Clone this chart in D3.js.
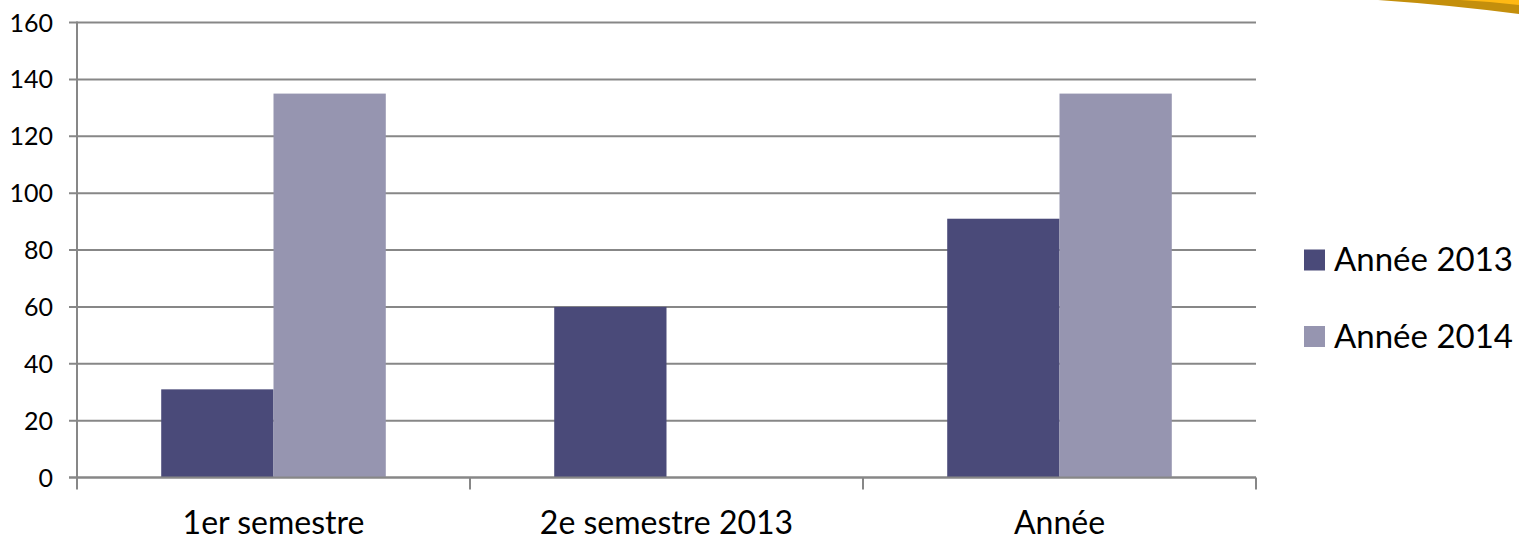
<!DOCTYPE html>
<html>
<head>
<meta charset="utf-8">
<script src="https://cdn.jsdelivr.net/npm/d3@7"></script>
<style>
html,body{margin:0;padding:0;background:#fff;}
svg{display:block;}
text{font-family:Lato,"Open Sans",sans-serif;fill:#000;}
</style>
</head>
<body>
<svg id="chart" width="1519" height="540"></svg>
<script>
const categories = ["1er semestre", "2e semestre 2013", "Année"];
const seriesNames = ["Année 2013", "Année 2014"];
const values2013 = [31, 60, 91];
const values2014 = [135, null, 135];
const yTicks = [0, 20, 40, 60, 80, 100, 120, 140, 160];
const colors = ["#4A4A79", "#9695B0"];

(function () {
const svg = d3.select("#chart");

// decorative swoosh in the top-right corner
svg.append("path").attr("d", "M1378,0 L1519,0 L1519,14 Q1450,5 1378,0 Z").attr("fill", "#C48F0C");
svg.append("path").attr("d", "M1460,0 L1519,0 L1519,5 Q1490,1.5 1460,0 Z").attr("fill", "#FFB914");

const pLeft = 77, pRight = 1256, pTop = 22.5, pBottom = 477.5;
const x = d3.scaleBand().domain(categories).range([pLeft, pRight]).paddingInner(0).paddingOuter(0);
const y = d3.scaleLinear().domain([0, 160]).range([pBottom, pTop]);
const barW = x.bandwidth() / 3.5;
const xs = d3.scaleBand().domain(seriesNames).range([0, barW * 2]);

const gridColor = "#878787";

// gridlines
svg.append("g").selectAll("line").data(yTicks).join("line")
  .attr("x1", pLeft - 8).attr("x2", pRight)
  .attr("y1", d => y(d)).attr("y2", d => y(d))
  .attr("stroke", gridColor).attr("stroke-width", 2);

// bars
const series = [values2013, values2014];
series.forEach((vals, si) => {
  svg.append("g").selectAll("rect")
    .data(categories.map((c, i) => ({c, v: vals[i]})).filter(d => d.v != null))
    .join("rect")
    .attr("x", d => x(d.c) + (x.bandwidth() - barW * 2) / 2 + xs(seriesNames[si]))
    .attr("width", xs.bandwidth())
    .attr("y", d => y(d.v))
    .attr("height", d => y(0) - y(d.v))
    .attr("fill", colors[si]);
});

// x axis line on top
svg.append("line").attr("x1", pLeft - 8).attr("x2", pRight).attr("y1", y(0)).attr("y2", y(0))
  .attr("stroke", gridColor).attr("stroke-width", 2);
// y axis
svg.append("line").attr("x1", pLeft).attr("x2", pLeft).attr("y1", pTop - 1).attr("y2", pBottom + 12)
  .attr("stroke", gridColor).attr("stroke-width", 2);
// x ticks at category boundaries
const bounds = categories.map(c => x(c) + x.bandwidth());
svg.append("g").selectAll("line").data(bounds).join("line")
  .attr("x1", d => d).attr("x2", d => d).attr("y1", y(0)).attr("y2", y(0) + 12)
  .attr("stroke", gridColor).attr("stroke-width", 2);

// y tick labels
svg.append("g").selectAll("text").data(yTicks).join("text")
  .attr("x", 53).attr("y", d => y(d)).attr("dy", "0.36em")
  .attr("text-anchor", "end").attr("font-size", 25)
  .text(d => d);

// category labels
svg.append("g").selectAll("text").data(categories).join("text")
  .attr("x", d => x(d) + x.bandwidth() / 2).attr("y", 534)
  .attr("text-anchor", "middle").attr("font-size", 32)
  .text(d => d);

// legend
const lg = svg.append("g");
seriesNames.forEach((n, i) => {
  const cy = 260 + i * 76.5;
  lg.append("rect").attr("x", 1304).attr("y", cy - 10.5).attr("width", 21).attr("height", 21).attr("fill", colors[i]);
  lg.append("text").attr("x", 1334).attr("y", cy + 11).attr("font-size", 33).text(n);
});
})();
</script>
</body>
</html>
